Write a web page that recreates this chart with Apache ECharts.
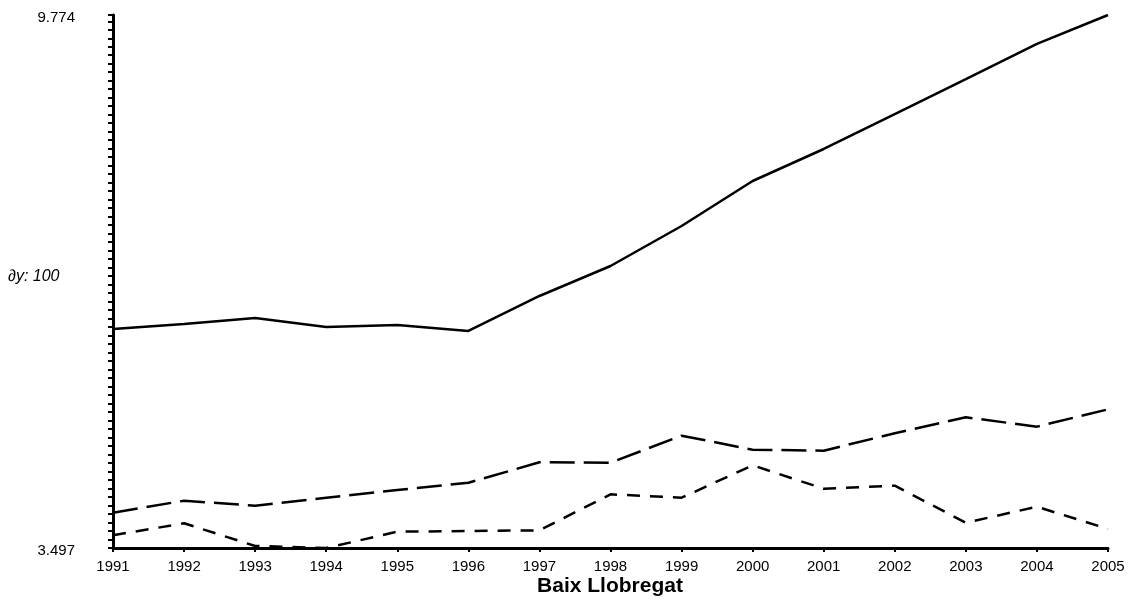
<!DOCTYPE html>
<html lang="ca">
<head>
<meta charset="UTF-8">
<title>Baix Llobregat</title>
<script src="https://cdn.jsdelivr.net/npm/echarts@6/dist/echarts.min.js"></script>
<style>
    html, body { margin: 0; padding: 0; background: #fff; }
    #box { width: 1129px; height: 609px; }
</style>
</head>
<body>
<div id="box"></div>
<script>
    // dades
    var years = ['1991','1992','1993','1994','1995','1996','1997','1998','1999','2000','2001','2002','2003','2004','2005'];
    var serieA = [6076, 6135, 6206, 6100, 6123, 6053, 6465, 6818, 7289, 7819, 8196, 8608, 9020, 9433, 9774];
    var serieB = [3913, 4054, 3995, 4089, 4180, 4266, 4506, 4502, 4820, 4655, 4643, 4848, 5036, 4926, 5130];
    var serieC = [3647, 3788, 3521, 3497, 3689, 3697, 3705, 4129, 4089, 4471, 4195, 4231, 3795, 3983, 3721];
    var yMin = 3497, yMax = 9774, yStep = 100;
    var yLabels = [yMin, yMax];

    // marques menors cada 100
    var yTicks = [];
    for (var v = Math.ceil(yMin / yStep) * yStep; v <= yMax; v += yStep) {
        yTicks.push(v);
    }
    yTicks.push(yMax);

    function fmt(v) {
        var s = String(v);
        return s.slice(0, s.length - 3) + '.' + s.slice(s.length - 3);
    }

    var font = '"Liberation Sans", Arial, sans-serif';
    var myChart = echarts.init(document.getElementById('box'));
    var option = {
        animation: false,
        backgroundColor: '#fff',
        grid: { left: 113, right: 21, top: 15, bottom: 61 },
        xAxis: {
            type: 'category',
            data: years,
            boundaryGap: false,
            axisLine: { lineStyle: { color: '#000', width: 3 } },
            axisTick: { alignWithLabel: true, length: 4, lineStyle: { color: '#000', width: 2 } },
            axisLabel: { color: '#000', fontFamily: font, fontSize: 15, margin: 11 },
            splitLine: { show: false }
        },
        yAxis: {
            type: 'value',
            min: yMin,
            max: yMax,
            axisLine: { show: true, lineStyle: { color: '#000', width: 3 } },
            axisTick: { show: true, customValues: yTicks, length: 5, lineStyle: { color: '#000', width: 2 } },
            axisLabel: {
                customValues: yLabels,
                color: '#000', fontFamily: font, fontSize: 15, margin: 38,
                verticalAlign: 'top', lineHeight: 6,
                formatter: function (v) { return fmt(v); }
            },
            splitLine: { show: false }
        },
        graphic: [
            {
                type: 'text', x: 8, y: 277,
                style: { text: '\u2202y: 100', font: 'italic 16px ' + font, fill: '#000', verticalAlign: 'middle' }
            },
            {
                type: 'text', x: 610, y: 586,
                style: { text: 'Baix Llobregat', font: 'bold 21px ' + font, fill: '#000', align: 'center', verticalAlign: 'middle' }
            }
        ],
        series: [
            {
                name: 'A', type: 'line', data: serieA, symbol: 'none',
                lineStyle: { color: '#000', width: 2.5 }
            },
            {
                name: 'B', type: 'line', data: serieB, symbol: 'none',
                lineStyle: { color: '#000', width: 2.5, type: [25, 9] }
            },
            {
                name: 'C', type: 'line', data: serieC, symbol: 'none',
                lineStyle: { color: '#000', width: 2.5, type: [13, 10] }
            }
        ]
    };
    myChart.setOption(option);
</script>
</body>
</html>
